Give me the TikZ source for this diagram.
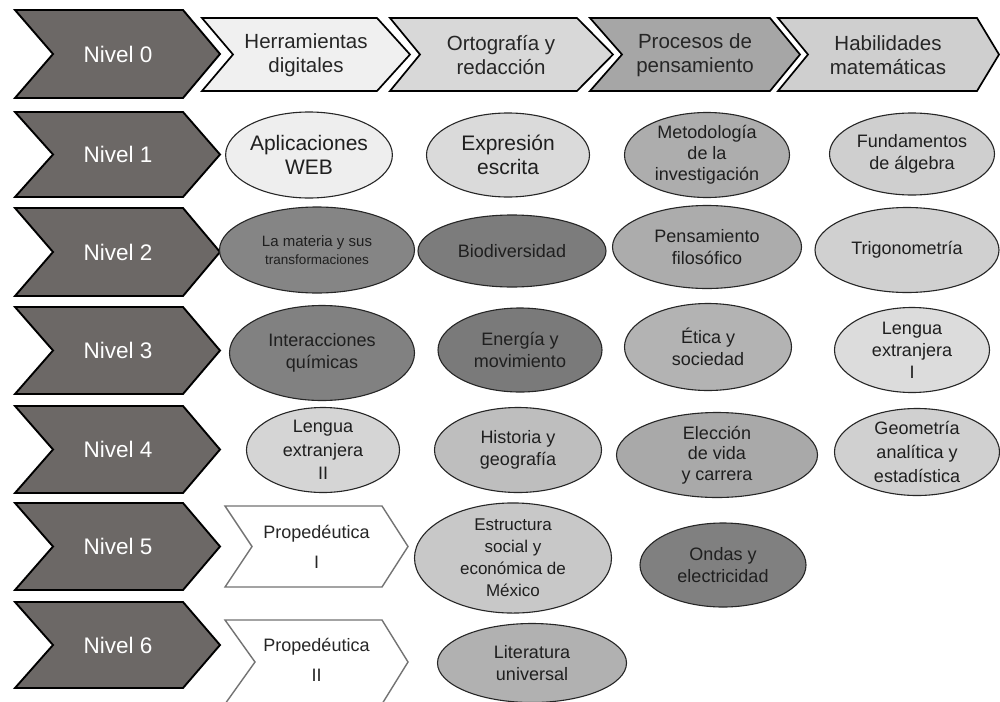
\documentclass[tikz,border=0pt]{standalone}
\usepackage{fontspec}
\setmainfont{Liberation Sans}
\usetikzlibrary{shapes.geometric}
\definecolor{lvlgray}{HTML}{6C6866}
\definecolor{hA}{HTML}{F0F0F0}
\definecolor{hB}{HTML}{D8D8D8}
\definecolor{hC}{HTML}{A6A6A6}
\definecolor{hD}{HTML}{CFCFCF}
\definecolor{eApl}{HTML}{EEEEEE}
\definecolor{eExp}{HTML}{DADADA}
\definecolor{eMet}{HTML}{ADADAD}
\definecolor{eFun}{HTML}{CFCFCF}
\definecolor{eMat}{HTML}{858585}
\definecolor{eBio}{HTML}{7C7C7C}
\definecolor{ePen}{HTML}{ACACAC}
\definecolor{eTri}{HTML}{D0D0D0}
\definecolor{eInt}{HTML}{818181}
\definecolor{eEne}{HTML}{7A7A7A}
\definecolor{eEti}{HTML}{B3B3B3}
\definecolor{eLeI}{HTML}{DCDCDC}
\definecolor{eLeII}{HTML}{D5D5D5}
\definecolor{eHis}{HTML}{BEBEBE}
\definecolor{eEle}{HTML}{A9A9A9}
\definecolor{eGeo}{HTML}{D0D0D0}
\definecolor{eEst}{HTML}{C8C8C8}
\definecolor{eOnd}{HTML}{808080}
\definecolor{eLit}{HTML}{B1B1B1}
% #1 style, #2 left, #3 notch, #4 top-right, #5 tip, #6 top, #7 bottom
\newcommand{\mychev}[7]{\path[#1] (#2,#6) -- (#4,#6) -- (#5,{(#6+#7)/2}) -- (#4,#7) -- (#2,#7) -- (#3,{(#6+#7)/2}) -- cycle;}
\tikzset{
  lvlshape/.style={fill=lvlgray, draw=black, line width=1.9, line join=miter},
  hdrshape/.style={draw=black, line width=1.7, line join=miter},
  propshape/.style={fill=white, draw=black!55, line width=1.4, line join=miter},
  lvltext/.style={text=white, font=\fontsize{22.5}{26}\selectfont},
  hdrtext/.style={align=center, text=black!85, font=\fontsize{20.5}{24}\selectfont},
  proptext/.style={align=center, text=black!85, font=\fontsize{18}{30}\selectfont},
  elli/.style={ellipse, draw=black!85, line width=1.1, inner sep=0pt, align=center, text=black!88, font=\fontsize{18}{22}\selectfont},
}
\begin{document}
\begin{tikzpicture}[x=1pt,y=-1pt]
\useasboundingbox (0,0) rectangle (1000,701);
\fill[white] (0,0) rectangle (1000,701);
% level chevrons
\mychev{lvlshape}{15}{53}{183}{220}{10}{98}
\mychev{lvlshape}{15}{53}{183}{220}{112}{197}
\mychev{lvlshape}{15}{53}{183}{220}{208}{296}
\mychev{lvlshape}{15}{53}{183}{220}{307}{394}
\mychev{lvlshape}{15}{53}{183}{220}{406}{493}
\mychev{lvlshape}{15}{53}{183}{220}{503}{590}
\mychev{lvlshape}{15}{53}{183}{220}{602}{688}
\node[lvltext] (n0) at (118,54) {Nivel 0};
\node[lvltext] (n1) at (118,154.5) {Nivel 1};
\node[lvltext] (n2) at (118,252) {Nivel 2};
\node[lvltext] (n3) at (118,350.5) {Nivel 3};
\node[lvltext] (n4) at (118,449.5) {Nivel 4};
\node[lvltext] (n5) at (118,546.5) {Nivel 5};
\node[lvltext] (n6) at (118,645) {Nivel 6};
% header chevrons
\mychev{hdrshape, fill=hA}{202}{233}{377}{410}{18}{91}
\mychev{hdrshape, fill=hB}{390}{420}{577}{613}{18}{91}
\mychev{hdrshape, fill=hC}{590}{622}{770}{800}{18}{91}
\mychev{hdrshape, fill=hD}{778}{808}{977}{999}{18}{91}
\node[hdrtext] (h1) at (306,55) {Herramientas\\digitales};
\node[hdrtext] (h2) at (501,55) {Ortografía y\\redacción};
\node[hdrtext] (h3) at (695,55) {Procesos de\\pensamiento};
\node[hdrtext] (h4) at (888,55) {Habilidades\\matemáticas};
% row 1
\node[elli, fill=eApl, minimum width=166, minimum height=86, font=\fontsize{21}{24}\selectfont] (apl) at (309,155) {Aplicaciones\\WEB};
\node[elli, fill=eExp, minimum width=163, minimum height=84, font=\fontsize{21}{24}\selectfont] (exp) at (508,155) {Expresión\\escrita};
\node[elli, fill=eMet, minimum width=165, minimum height=85, font=\fontsize{18}{21}\selectfont] (met) at (707,155) {Metodología\\de la\\investigación};
\node[elli, fill=eFun, minimum width=165, minimum height=82] (fun) at (912,154) {Fundamentos\\de álgebra};
% row 2
\node[elli, fill=eMat, minimum width=195, minimum height=86, font=\fontsize{15}{18}\selectfont] (mat) at (317,250) {La materia y sus\\{\fontsize{13.5}{18}\selectfont transformaciones}};
\node[elli, fill=eBio, minimum width=188, minimum height=72] (bio) at (512,251) {Biodiversidad};
\node[elli, fill=ePen, minimum width=189, minimum height=83] (pen) at (707,247) {Pensamiento\\filosófico};
\node[elli, fill=eTri, minimum width=184, minimum height=85] (tri) at (907,250) {Trigonometría};
% row 3
\node[elli, fill=eInt, minimum width=185, minimum height=95] (int) at (322,353) {Interacciones\\químicas};
\node[elli, fill=eEne, minimum width=164, minimum height=84] (ene) at (520,350) {Energía y\\movimiento};
\node[elli, fill=eEti, minimum width=167, minimum height=87] (eti) at (708,347) {Ética y\\sociedad};
\node[elli, fill=eLeI, minimum width=155, minimum height=85] (lei) at (912,350) {Lengua\\extranjera\\I};
% row 4
\node[elli, fill=eLeII, minimum width=153, minimum height=85, font=\fontsize{18}{23.5}\selectfont] (leii) at (323,450) {Lengua\\extranjera\\II};
\node[elli, fill=eHis, minimum width=167, minimum height=85] (his) at (518,450) {Historia y\\geografía};
\node[elli, fill=eEle, minimum width=201, minimum height=85, font=\fontsize{18}{20.5}\selectfont] (ele) at (717,455) {Elección\\de vida\\y carrera};
\node[elli, fill=eGeo, minimum width=165, minimum height=87, font=\fontsize{18}{24}\selectfont] (geo) at (917,452) {Geometría\\analítica y\\estadística};
% row 5
\mychev{propshape}{225}{252}{382}{408}{506}{587}
\node[proptext] (p1) at (316.5,547) {Propedéutica\\I};
\node[elli, fill=eEst, minimum width=197, minimum height=89, font=\fontsize{17}{22}\selectfont] (est) at (513,558) {Estructura\\social y\\económica de\\México};
\node[elli, fill=eOnd, minimum width=166, minimum height=84] (ond) at (723,565) {Ondas y\\electricidad};
% row 6
\mychev{propshape}{225}{255}{382}{408}{620}{704}
\node[proptext] (p2) at (316.5,660) {Propedéutica\\II};
\node[elli, fill=eLit, minimum width=189, minimum height=79] (lit) at (532,663) {Literatura\\universal};
\end{tikzpicture}
\end{document}
